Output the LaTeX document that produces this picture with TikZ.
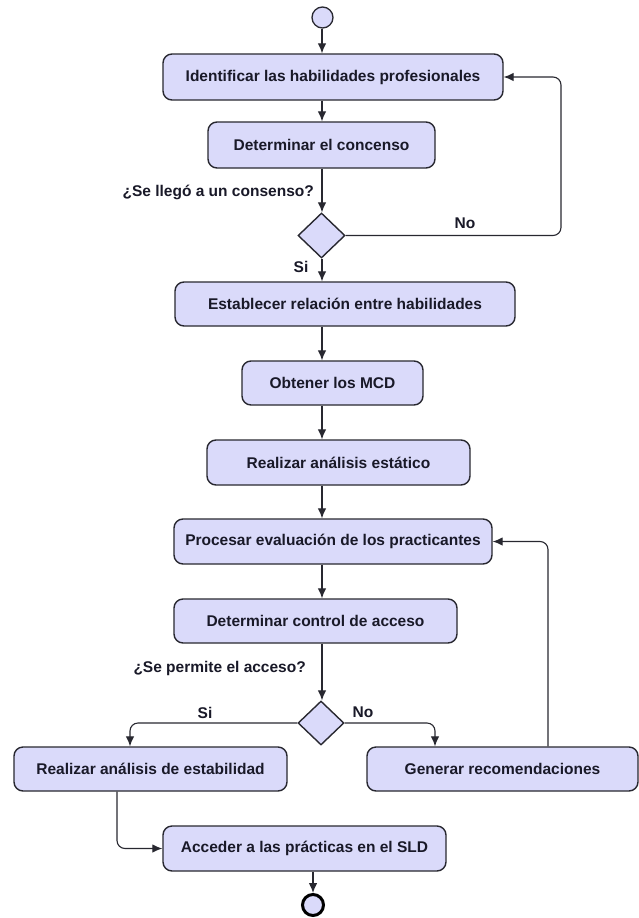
\documentclass[tikz,border=0pt]{standalone}
\usepackage{fontspec}
\setmainfont{Liberation Sans}
\usetikzlibrary{shapes.geometric,arrows.meta}
\definecolor{lav}{RGB}{218,218,250}
\definecolor{edge}{RGB}{40,40,48}
\definecolor{txt}{RGB}{25,25,40}
\tikzset{
  act/.style={rectangle, rounded corners=9pt, draw=edge, line width=1.4pt, fill=lav,
    inner sep=0pt, text=txt, font=\fontsize{15.5}{18}\selectfont\bfseries},
  dec/.style={diamond, draw=edge, line width=1.4pt, fill=lav, inner sep=0pt},
  arr/.style={draw=edge, line width=1.1pt, -{Latex[length=10pt,width=8.5pt]}},
  lbl/.style={text=txt, font=\fontsize{15.5}{18}\selectfont\bfseries, inner sep=0pt}
}
\begin{document}
\begin{tikzpicture}[x=1pt,y=-1pt]
\useasboundingbox[fill=white] (0,0) rectangle (639,918);
% spine coordinates
\coordinate (axis) at (322,0);
\coordinate (fbA) at (561,0);
\coordinate (fbB) at (548,0);
\coordinate (brL) at (130,0);
\coordinate (brR) at (435,0);
\coordinate (jn) at (117,0);
% nodes
\node[circle, draw=edge, line width=1.3pt, fill=lav, minimum size=21pt, inner sep=0pt] (start) at (322.5,17.5) {};
\node[act, minimum width=340pt, minimum height=46pt] (b1) at (333,77) {Identificar las habilidades profesionales};
\node[act, minimum width=227pt, minimum height=46pt] (b2) at (321.5,145) {Determinar el concenso};
\node[dec, minimum width=47pt, minimum height=45pt] (d1) at (321.5,235.5) {};
\node[act, minimum width=340pt, minimum height=44pt] (b3) at (345,304) {Establecer relación entre habilidades};
\node[act, minimum width=181pt, minimum height=44pt] (b4) at (332.5,383) {Obtener los MCD};
\node[act, minimum width=263pt, minimum height=45pt] (b5) at (338.5,462.5) {Realizar análisis estático};
\node[act, minimum width=318pt, minimum height=45pt] (b6) at (333,541.5) {Procesar evaluación de los practicantes};
\node[act, minimum width=283pt, minimum height=44pt] (b7) at (315.5,621) {Determinar control de acceso};
\node[dec, minimum width=46pt, minimum height=44pt] (d2) at (321,723) {};
\node[act, minimum width=273pt, minimum height=44pt] (b8) at (150.5,769) {Realizar análisis de estabilidad};
\node[act, minimum width=271pt, minimum height=44pt] (b9) at (502.5,769) {Generar recomendaciones};
\node[act, minimum width=283pt, minimum height=45pt] (b10) at (304.5,848.5) {Acceder a las prácticas en el SLD};
\node[circle, draw=black, line width=3pt, fill=lav, minimum size=21pt, inner sep=0pt] (end) at (313,905) {};
% labels
\node[lbl, anchor=east] (q1) at (314,192) {¿Se llegó a un consenso?};
\node[lbl] (no1) at (465,223) {No};
\node[lbl] (si1) at (301,267) {Si};
\node[lbl, anchor=east] (q2) at (306,668) {¿Se permite el acceso?};
\node[lbl] (si2) at (205,713) {Si};
\node[lbl] (no2) at (363,712) {No};
% connectors
\draw[arr] (start.south -| axis) -- (b1.north -| axis);
\draw[arr] (b1.south -| axis) -- (b2.north -| axis);
\draw[arr] (b2.south -| axis) -- (d1.north -| axis);
\draw[arr] (d1.south -| axis) -- (b3.north -| axis);
\draw[arr] (b3.south -| axis) -- (b4.north -| axis);
\draw[arr] (b4.south -| axis) -- (b5.north -| axis);
\draw[arr] (b5.south -| axis) -- (b6.north -| axis);
\draw[arr] (b6.south -| axis) -- (b7.north -| axis);
\draw[arr] (b7.south -| axis) -- (d2.north -| axis);
\draw[arr, rounded corners=8pt] (d1.east) -- (d1.east -| fbA) -- (fbA |- b1.east) -- (b1.east);
\draw[arr, rounded corners=8pt] (d2.west) -- (d2.west -| brL) -- (brL |- b8.north);
\draw[arr, rounded corners=8pt] (d2.east) -- (d2.east -| brR) -- (brR |- b9.north);
\draw[arr, rounded corners=8pt] (b9.north -| fbB) -- (fbB |- b6.east) -- (b6.east);
\draw[arr, rounded corners=8pt] (b8.south -| jn) -- (jn |- b10.west) -- (b10.west);
\draw[arr] (b10.south -| end) -- (end.north);
\end{tikzpicture}
\end{document}
